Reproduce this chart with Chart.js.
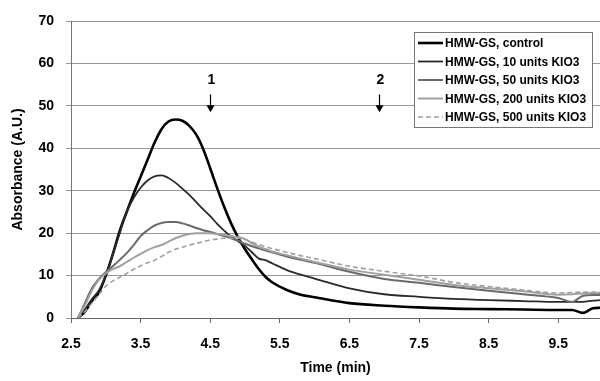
<!DOCTYPE html>
<html>
<head>
<meta charset="utf-8">
<script src="https://cdn.jsdelivr.net/npm/chart.js@4.4.0/dist/chart.umd.min.js"></script>
<style>
  html, body { margin: 0; padding: 0; background: #fff; }
</style>
</head>
<body>
<canvas id="chart" width="600" height="381"></canvas>
<script>
// time points (min), shared by all traces
const times = [2.6, 2.7, 2.8, 2.9, 3.0, 3.1, 3.2, 3.3, 3.4, 3.5, 3.6, 3.7, 3.8, 3.9,
  4.0, 4.1, 4.2, 4.3, 4.4, 4.5, 4.6, 4.7, 4.8, 4.9, 5.0, 5.1, 5.2, 5.3, 5.4,
  5.6, 5.8, 6.0, 6.5, 7.0, 7.5, 8.0, 8.5, 9.0, 9.5, 9.7, 9.85, 10.0, 10.1];

const control = [0, 1.5, 4, 6, 10, 15, 20.5, 25, 29.3, 33.3, 37.3, 41.3, 44.5, 46.3,
  46.8, 46.5, 45.3, 43.2, 39.8, 35.3, 30.6, 26.2, 22.3, 19, 16.2, 13.8, 11.5, 9.6, 8.3,
  6.6, 5.5, 4.9, 3.5, 2.9, 2.5, 2.2, 2.1, 2.0, 1.9, 1.9, 1.2, 2.3, 2.4];

const kio10 = [0, 2, 4.5, 6.5, 10, 15, 20, 25, 28.3, 30.7, 32.4, 33.4, 33.6, 33.0,
  31.9, 30.5, 29, 27.3, 25.6, 24, 22.2, 20.6, 19.2, 18.1, 17.0, 15.5, 14.0, 13.6, 12.8,
  11.3, 10.2, 9.3, 7.0, 5.6, 5.0, 4.5, 4.2, 4.0, 3.8, 3.8, 3.8, 4.1, 4.2];

const kio50 = [0, 3.5, 7, 9.2, 10.8, 12.2, 13.7, 15.3, 17.2, 19.3, 20.7, 21.8, 22.4, 22.6,
  22.6, 22.3, 21.8, 21.2, 20.7, 20.3, 19.8, 19.3, 18.8, 18.2, 17.5, 16.9, 16.4, 15.9, 15.4,
  14.5, 13.7, 13.0, 10.9, 9.2, 8.3, 7.3, 6.4, 5.6, 4.7, 3.8, 5.2, 5.4, 5.4];

const kio200 = [0, 3, 6.5, 9, 10.5, 11.5, 12.2, 13.2, 14.2, 15.1, 16, 16.7, 17.2, 18,
  18.8, 19.4, 19.8, 20, 20, 20, 19.8, 19.6, 19.3, 19.1, 18.6, 17.6, 16.8, 16.2, 15.6,
  14.8, 14.0, 13.2, 11.4, 10.2, 9.0, 7.8, 7.0, 6.3, 5.5, 5.6, 5.8, 5.9, 5.9];

const kio500 = [0, 1.5, 3.5, 5.5, 7.5, 8.7, 9.6, 10.5, 11.5, 12.3, 13, 13.6, 14.5, 15.5,
  16.2, 16.7, 17.2, 17.6, 18, 18.4, 18.6, 18.8, 18.8, 18.8, 18.5, 17.9, 17.3, 16.8, 16.3,
  15.5, 14.7, 14.0, 12.2, 11.0, 9.9, 8.4, 7.4, 6.6, 5.9, 6.0, 6.1, 6.1, 6.1];

const seriesNames = ['HMW-GS, control', 'HMW-GS, 10 units KIO3', 'HMW-GS, 50 units KIO3',
  'HMW-GS, 200 units KIO3', 'HMW-GS, 500 units KIO3'];

const xTicks = [2.5, 3.5, 4.5, 5.5, 6.5, 7.5, 8.5, 9.5];

// arrow markers
const markerLabels = ['1', '2'];
const markerTimes = [4.49, 6.93];

const FONT = '"Liberation Sans", Arial, sans-serif';

const styles = [
  { color: '#000000', width: 2.6, dash: [] },
  { color: '#2a2a2a', width: 1.8, dash: [] },
  { color: '#6a6a6a', width: 2, dash: [] },
  { color: '#a0a0a0', width: 2, dash: [] },
  { color: '#a0a0a0', width: 1.6, dash: [5, 3] }
];

const values = [control, kio10, kio50, kio200, kio500];

const datasets = values.map((vals, i) => ({
  label: seriesNames[i],
  data: times.map((t, j) => ({ x: t, y: vals[j] })),
  borderColor: styles[i].color,
  borderWidth: styles[i].width,
  borderDash: styles[i].dash,
  pointRadius: 0,
  fill: false,
  cubicInterpolationMode: 'monotone'
}));

// reverse so the black curves sit on top
datasets.reverse();

const extras = {
  id: 'extras',
  afterDraw(chart) {
    const ctx = chart.ctx;
    const x = chart.scales.x, y = chart.scales.y;
    const area = chart.chartArea;
    ctx.save();

    // numbered arrows
    ctx.fillStyle = '#000';
    ctx.strokeStyle = '#000';
    ctx.lineWidth = 1.2;
    ctx.font = 'bold 14px ' + FONT;
    ctx.textAlign = 'center';
    ctx.textBaseline = 'middle';
    markerTimes.forEach((t, i) => {
      const px = Math.round(x.getPixelForValue(t)) + 0.5;
      const tip = y.getPixelForValue(48.5);
      ctx.fillText(markerLabels[i], px + 1, y.getPixelForValue(56));
      ctx.beginPath();
      ctx.moveTo(px, y.getPixelForValue(52.7));
      ctx.lineTo(px, tip - 6);
      ctx.stroke();
      ctx.beginPath();
      ctx.moveTo(px - 4, tip - 7);
      ctx.lineTo(px + 4, tip - 7);
      ctx.lineTo(px, tip);
      ctx.closePath();
      ctx.fill();
    });

    // legend box
    const bx = area.right - 186, by = area.top + 11, bw = 178, bh = 95;
    ctx.fillStyle = '#fff';
    ctx.fillRect(bx, by, bw, bh);
    ctx.strokeStyle = '#777';
    ctx.lineWidth = 1;
    ctx.strokeRect(bx + 0.5, by + 0.5, bw, bh);
    ctx.font = 'bold 12px ' + FONT;
    ctx.textAlign = 'left';
    ctx.fillStyle = '#000';
    seriesNames.forEach((name, i) => {
      const ly = by + 11 + i * 18.5;
      ctx.beginPath();
      ctx.strokeStyle = styles[i].color;
      ctx.lineWidth = styles[i].width;
      ctx.setLineDash(styles[i].dash);
      ctx.moveTo(bx + 4, ly);
      ctx.lineTo(bx + 29, ly);
      ctx.stroke();
      ctx.setLineDash([]);
      ctx.fillText(name, bx + 31, ly + 1);
    });
    ctx.restore();
  }
};

new Chart(document.getElementById('chart'), {
  type: 'line',
  data: { datasets: datasets },
  options: {
    responsive: false,
    animation: false,
    layout: { padding: { top: 21, right: 0, left: 0, bottom: 0 } },
    plugins: {
      legend: { display: false },
      tooltip: { enabled: false }
    },
    scales: {
      x: {
        type: 'linear',
        min: 2.5,
        max: 10.1,
        afterBuildTicks: scale => { scale.ticks = xTicks.map(v => ({ value: v })); },
        afterFit: scale => { scale.height = 63; },
        grid: { drawOnChartArea: false, drawTicks: true, tickLength: 5, color: '#666' },
        border: { color: '#666', width: 1 },
        ticks: {
          color: '#000',
          font: { family: FONT, size: 14, weight: 'bold' },
          padding: 13,
          maxRotation: 0,
          callback: v => v.toFixed(1)
        },
        title: {
          display: true,
          text: 'Time (min)',
          color: '#000',
          font: { family: FONT, size: 14, weight: 'bold' },
          padding: { top: 6 }
        }
      },
      y: {
        min: 0,
        max: 70,
        afterFit: scale => { scale.width = 71; },
        ticks: {
          stepSize: 10,
          color: '#000',
          font: { family: FONT, size: 14, weight: 'bold' },
          padding: 12
        },
        grid: { color: '#999', lineWidth: 1, tickLength: 5 },
        border: { color: '#777', width: 1 },
        title: {
          display: true,
          text: 'Absorbance (A.U.)',
          color: '#000',
          font: { family: FONT, size: 14, weight: 'bold' },
          padding: { top: 10, bottom: 0 }
        }
      }
    }
  },
  plugins: [extras]
});
</script>
</body>
</html>
